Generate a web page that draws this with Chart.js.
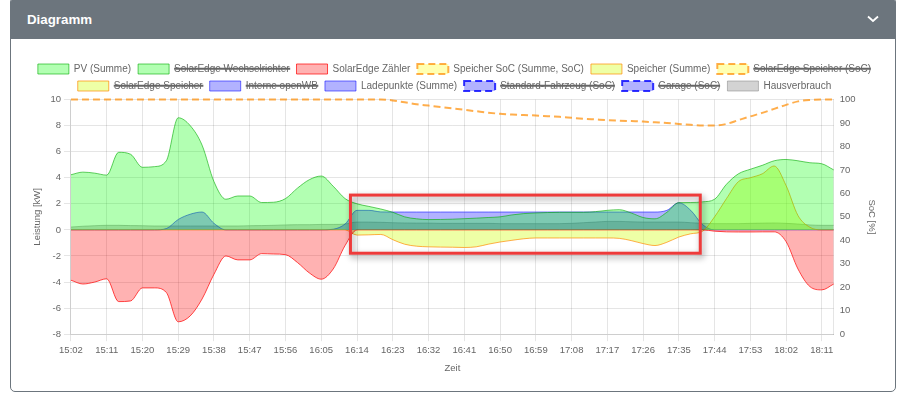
<!DOCTYPE html>
<html>
<head>
<meta charset="utf-8">
<title>Diagramm</title>
<script src="https://cdn.jsdelivr.net/npm/chart.js"></script>
<style>
  html, body {
    margin: 0;
    padding: 0;
    background: #fff;
    font-family: "Liberation Sans", Arial, sans-serif;
  }
  .card {
    position: absolute;
    left: 10px;
    top: -3px;
    width: 886px;
    height: 395px;
    box-sizing: border-box;
    border: 1px solid #6c757d;
    border-radius: 5px;
    overflow: hidden;
    background: #fff;
  }
  .card-header {
    height: 41px;
    background: #6c757d;
    color: #fff;
    font-weight: bold;
    font-size: 13.3px;
    line-height: 44px;
    padding-left: 16px;
  }
  .card-header svg {
    position: absolute;
    right: 16px;
    top: 17px;
  }
  .chart-box {
    position: absolute;
    left: 28px;
    top: 57px;
    width: 853px;
    height: 321px;
  }
</style>
</head>
<body>
<div class="card">
  <div class="card-header">Diagramm
    <svg width="12" height="8" viewBox="0 0 12 8"><polyline points="1,1.5 6,6 11,1.5" fill="none" stroke="#fff" stroke-width="1.8"/></svg>
  </div>
</div>
<div class="chart-box"><canvas id="chart"></canvas></div>

<script>
// time axis, one point every 3 minutes
const labels = ['15:02','15:05','15:08','15:11','15:14','15:17','15:20','15:23','15:26','15:29',
  '15:32','15:35','15:38','15:41','15:44','15:47','15:50','15:53','15:56','15:59',
  '16:02','16:05','16:08','16:11','16:14','16:17','16:20','16:23','16:26','16:29',
  '16:32','16:35','16:38','16:41','16:44','16:47','16:50','16:53','16:56','16:59',
  '17:02','17:05','17:08','17:11','17:14','17:17','17:20','17:23','17:26','17:29',
  '17:32','17:35','17:38','17:41','17:44','17:47','17:50','17:53','17:56','17:59',
  '18:02','18:05','18:08','18:11','18:14'];

// kW
const pvSumme = [4.23,4.43,4.35,4.2,5.95,5.8,4.8,4.85,5.3,8.6,
  8.0,6.5,3.7,2.35,2.6,2.6,2.1,2.12,2.4,3.2,
  3.85,4.13,3.35,2.4,2.0,1.8,1.6,1.35,1.0,0.85,
  0.79,0.8,0.82,0.86,0.9,0.95,1.0,1.15,1.25,1.3,
  1.33,1.35,1.35,1.35,1.4,1.5,1.55,1.3,0.95,0.85,
  1.35,2.09,2.1,2.15,2.35,3.5,4.3,4.65,4.95,5.3,
  5.4,5.3,5.15,5.07,4.6];

const zaehler = [-3.86,-4.15,-4.0,-3.75,-5.5,-5.45,-4.45,-4.45,-4.8,-7.05,
  -6.6,-5.3,-3.4,-2.0,-2.3,-2.3,-1.82,-1.85,-1.9,-2.5,
  -3.3,-3.78,-3.0,-1.2,0,0,0,0,0,0,
  0,0,0,0,0,0,0,0,0,0,
  0,0,0,0,0,0,0,0,0,0,
  0,0,0,0,-0.1,-0.15,-0.16,-0.16,-0.15,-0.15,
  -0.9,-3.0,-4.35,-4.6,-4.15];

const speicher = [0,0,0,0,0,0,0,0,0,0,
  0,0,0,0,0,0,0,0,0,0,
  0,0,0,0,-0.4,-0.38,-0.35,-0.75,-1.1,-1.25,
  -1.3,-1.32,-1.33,-1.35,-1.3,-1.1,-0.93,-0.8,-0.68,-0.62,
  -0.62,-0.62,-0.62,-0.62,-0.62,-0.62,-0.65,-0.82,-1.05,-1.2,
  -0.95,-0.55,-0.3,-0.1,1.0,2.4,3.7,4.0,4.3,4.9,
  3.4,1.1,0.2,0,0];

const ladepunkte = [0,0,0,0,0,0,0,0,0.1,0.8,
  1.2,1.37,0.5,0,0,0,0,0,0,0,
  0,0,0.05,0.45,1.5,1.5,1.38,1.37,1.37,1.37,
  1.37,1.37,1.37,1.37,1.37,1.37,1.37,1.37,1.37,1.37,
  1.37,1.37,1.37,1.37,1.37,1.37,1.37,1.37,1.37,1.37,
  1.5,2.08,1.5,0.4,0,0,0,0,0,0,
  0,0,0,0,0];

const hausverbrauch = [0.22,0.28,0.32,0.35,0.35,0.33,0.32,0.3,0.3,0.3,
  0.3,0.3,0.3,0.3,0.3,0.32,0.33,0.35,0.38,0.4,
  0.4,0.42,0.42,0.45,0.6,0.6,0.58,0.55,0.53,0.52,
  0.52,0.5,0.5,0.5,0.5,0.5,0.48,0.48,0.48,0.48,
  0.48,0.48,0.5,0.55,0.6,0.65,0.65,0.62,0.6,0.6,
  0.6,0.6,0.55,0.5,0.48,0.48,0.48,0.5,0.52,0.53,
  0.5,0.45,0.38,0.35,0.35];

// %
const speicherSoc = [100,100,100,100,100,100,100,100,100,100,
  100,100,100,100,100,100,100,100,100,100,
  100,100,100,100,100,100,100,99.6,98.8,98,
  97.4,96.8,96.2,95.6,95,94.4,93.9,93.6,93.4,93.2,
  92.9,92.6,92.2,91.8,91.5,91.2,91,90.8,90.6,90.3,
  90,89.6,89.2,88.9,88.9,89.6,91.2,92.8,94.3,96,
  97.7,99.2,99.8,100,100];

// red marker box drawn over the chart (x as label index, y in kW)
const markFrom = 23.45, markTo = 52.8, markTop = 2.67, markBottom = -1.79;

const green = 'rgba(0, 255, 0, 0.3)', greenLine = 'rgba(0, 170, 0, 0.6)';
const red = 'rgba(255, 0, 0, 0.3)', redLine = 'rgba(255, 0, 0, 0.7)';
const yellow = 'rgba(205, 255, 0, 0.35)', orangeLine = 'rgba(255, 140, 0, 0.7)';
const blue = 'rgba(0, 0, 255, 0.3)', blueLine = 'rgba(0, 0, 255, 0.55)';
const grey = 'rgba(128, 128, 128, 0.35)';

function area(label, data, bg, line, extra) {
  return Object.assign({
    label: label, data: data, yAxisID: 'y',
    backgroundColor: bg, borderColor: line, borderWidth: 1,
    fill: 'origin', pointRadius: 0, cubicInterpolationMode: 'monotone'
  }, extra || {});
}

const socLine = {yAxisID: 'y1', fill: false, borderWidth: 2, borderDash: [7, 4], clip: false};

const datasets = [
  area('PV (Summe)', pvSumme, green, greenLine),
  area('SolarEdge Wechselrichter', [], green, greenLine, {hidden: true}),
  area('SolarEdge Zähler', zaehler, red, redLine),
  area('Speicher SoC (Summe, SoC)', speicherSoc, 'rgba(255, 255, 0, 0.3)', orangeLine, socLine),
  area('Speicher (Summe)', speicher, yellow, orangeLine),
  area('SolarEdge Speicher (SoC)', [], 'rgba(255, 255, 0, 0.3)', orangeLine,
    Object.assign({hidden: true}, socLine)),
  area('SolarEdge Speicher', [], yellow, orangeLine, {hidden: true}),
  area('Interne openWB', [], blue, blueLine, {hidden: true}),
  area('Ladepunkte (Summe)', ladepunkte, blue, blueLine),
  area('Standard-Fahrzeug (SoC)', [], blue, 'rgba(0, 0, 255, 0.8)',
    Object.assign({hidden: true}, socLine)),
  area('Garage (SoC)', [], blue, 'rgba(0, 0, 255, 0.8)',
    Object.assign({hidden: true}, socLine)),
  area('Hausverbrauch', hausverbrauch, grey, 'rgba(128, 128, 128, 0.5)')
];

const markBox = {
  id: 'markBox',
  afterDraw(chart) {
    const ctx = chart.ctx, x = chart.scales.x, y = chart.scales.y;
    const left = x.getPixelForValue(markFrom), right = x.getPixelForValue(markTo);
    const top = y.getPixelForValue(markTop), bottom = y.getPixelForValue(markBottom);
    ctx.save();
    ctx.shadowColor = 'rgba(0, 0, 0, 0.4)';
    ctx.shadowBlur = 6;
    ctx.shadowOffsetX = 2;
    ctx.shadowOffsetY = 3;
    ctx.strokeStyle = '#ee3b3b';
    ctx.lineWidth = 3;
    ctx.strokeRect(left, top, right - left, bottom - top);
    ctx.restore();
  }
};

// legend block a bit shorter so the plot starts closer under it
const legendTrim = {
  id: 'legendTrim',
  beforeInit(chart) {
    const fit = chart.legend.fit;
    chart.legend.fit = function () { fit.call(this); this.height -= 1.5; };
  }
};

Chart.defaults.font.family = '"Liberation Sans", Arial, sans-serif';
Chart.defaults.font.size = 9.5;
Chart.defaults.color = '#666';

new Chart(document.getElementById('chart'), {
  type: 'line',
  data: { labels: labels, datasets: datasets },
  plugins: [legendTrim, markBox],
  options: {
    responsive: true,
    maintainAspectRatio: false,
    animation: false,
    plugins: {
      legend: {
        labels: { boxWidth: 31, boxHeight: 10, padding: 7, font: { size: 10 } }
      },
      tooltip: { enabled: false }
    },
    scales: {
      x: {
        ticks: {
          autoSkip: false,
          maxRotation: 0,
          callback: function (v, i) { return i % 3 === 0 ? this.getLabelForValue(v) : ''; }
        },
        grid: {
          color: ctx => ctx.index % 3 === 0 ? 'rgba(0, 0, 0, 0.1)' : 'rgba(0, 0, 0, 0)',
          tickLength: 7
        },
        title: { display: true, text: 'Zeit' }
      },
      y: {
        position: 'left',
        min: -8, max: 10,
        ticks: { stepSize: 2 },
        grid: { color: 'rgba(0, 0, 0, 0.1)', tickLength: 7 },
        title: { display: true, text: 'Leistung [kW]' }
      },
      y1: {
        position: 'right',
        min: 0, max: 100,
        ticks: { stepSize: 10, padding: 6 },
        grid: { drawOnChartArea: false, drawTicks: false },
        title: { display: true, text: 'SoC [%]' }
      }
    }
  }
});
</script>
</body>
</html>
